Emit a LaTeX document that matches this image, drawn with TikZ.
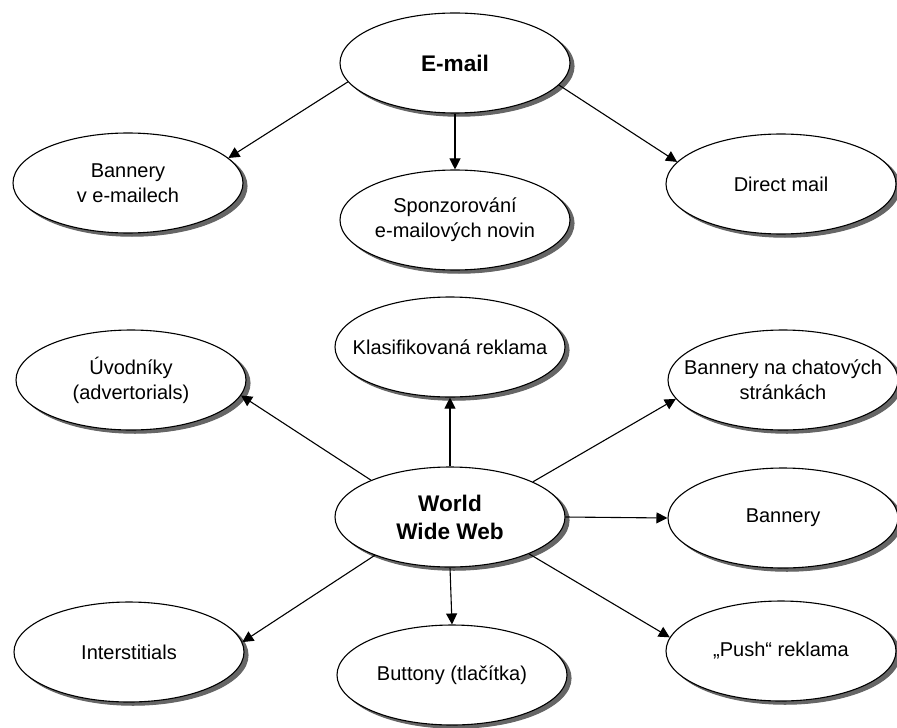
\documentclass[tikz,border=0pt]{standalone}
\usepackage{fontspec}
\setmainfont{Liberation Sans}
\usetikzlibrary{shapes.geometric,shadows,arrows.meta}

\tikzset{
  oval/.style={ellipse, draw, line width=0.55pt, fill=white,
    minimum width=115pt, minimum height=50pt,
    inner xsep=-20pt, inner ysep=0pt, align=center,
    font=\fontsize{10}{12.5}\selectfont,
    copy shadow={shadow xshift=2pt, shadow yshift=-1.6pt, fill=black!60, draw=black!60}},
  hub/.style={oval, font=\fontsize{11.3}{14}\selectfont\bfseries},
  pointer/.style={-{Triangle[length=5.5pt,width=5.5pt]}, line width=0.55pt},
}

\begin{document}
\begin{tikzpicture}[x=0.5pt,y=-0.5pt]
    \useasboundingbox (0,0) rectangle (897,727);
    % e-mail branch
    \node[hub] (email) at (455,63) {E-mail};
    \node[oval] (bve) at (128,183) {Bannery\\v e-mailech};
    \node[oval] (sponz) at (455,220) {Sponzorování\\e-mailových novin};
    \node[oval] (direct) at (781,184) {Direct mail};
    % web branch
    \node[hub] (www) at (450,517) {World\\Wide Web};
    \node[oval] (uvod) at (131,380) {Úvodníky\\(advertorials)};
    \node[oval] (klas) at (450,347) {Klasifikovaná reklama};
    \node[oval] (chat) at (783,380) {Bannery na chatových\\stránkách};
    \node[oval] (bannery) at (783,518) {Bannery};
    \node[oval] (inter) at (129,652) {Interstitials};
    \node[oval] (buttony) at (452,675) {Buttony (tlačítka)};
    \node[oval] (push) at (781,651) {„Push“ reklama};
    % arrows
    \draw[pointer] (email.190) -- (bve.14);
    \draw[pointer] (email.south) -- (sponz.north);
    \draw[pointer] (email.348) -- (direct.168);
    \draw[pointer] (www.155) -- (uvod.352);
    \draw[pointer] (www.north) -- (klas.south);
    \draw[pointer] (www.23) -- (chat.190);
    \draw[pointer] (www.east) -- (bannery.west);
    \draw[pointer] (www.207) -- (inter.5);
    \draw[pointer] (www.south) -- (buttony.north);
    \draw[pointer] (www.335) -- (push.173);
\end{tikzpicture}
\end{document}
